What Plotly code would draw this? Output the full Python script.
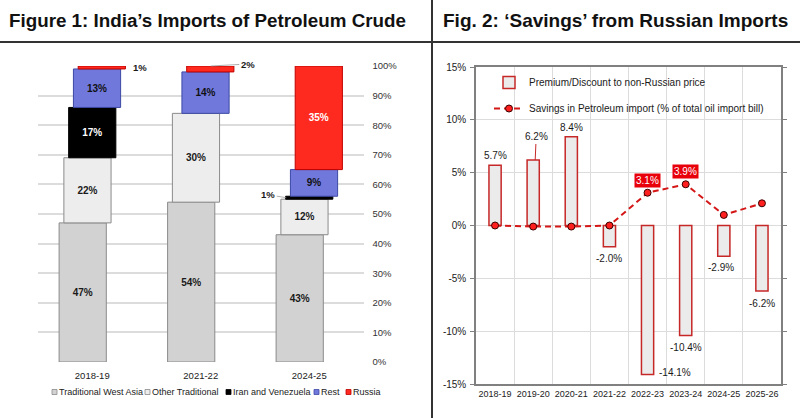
import plotly.graph_objects as go

# ---------------- Figure 1 data ----------------
years_left = ["2018-19", "2021-22", "2024-25"]
series_names = ["Traditional West Asia", "Other Traditional", "Iran and Venezuela", "Rest", "Russia"]
west_asia = [47, 54, 43]
other_traditional = [22, 30, 12]
iran_venezuela = [17, 0, 1]
rest = [13, 14, 9]
russia = [1, 2, 35]
left_tickvals = [0, 10, 20, 30, 40, 50, 60, 70, 80, 90, 100]
left_ticktext = ["0%", "10%", "20%", "30%", "40%", "50%", "60%", "70%", "80%", "90%", "100%"]

# ---------------- Figure 2 data ----------------
years_right = ["2018-19", "2019-20", "2020-21", "2021-22", "2022-23", "2023-24", "2024-25", "2025-26"]
premium_discount = [5.7, 6.2, 8.4, -2.0, -14.1, -10.4, -2.9, -6.2]
savings = [0.0, -0.1, -0.1, 0.0, 3.1, 3.9, 1.0, 2.1]
savings_label_years = ["2022-23", "2023-24"]
right_tickvals = [-15, -10, -5, 0, 5, 10, 15]
right_ticktext = ["-15%", "-10%", "-5%", "0%", "5%", "10%", "15%"]

title_left = "Figure 1: India’s Imports of Petroleum Crude"
title_right = "Fig. 2: ‘Savings’ from Russian Imports"
bar_name = "Premium/Discount to non-Russian price"
line_name = "Savings in Petroleum import (% of total oil import bill)"

# ---------------- styles ----------------
W, H = 800, 418
FONT = "Liberation Sans, Arial, sans-serif"


def px(x):
    return x / W


def py(y):
    return 1 - y / H


fills = ["#d2d2d2", "#ededed", "#000000", "#7078dc", "#ff2a1f"]
edges = ["#8a8a8a", "#8a8a8a", "#000000", "#3d4aa3", "#c00000"]
text_cols = ["#1a1a1a", "#1a1a1a", "#ffffff", "#111111", "#ffffff"]
bar_w = 0.435
step = 0.044

fig = go.Figure()

all_series = [west_asia, other_traditional, iran_venezuela, rest, russia]
bases = [0] * len(years_left)
for i, (name, vals) in enumerate(zip(series_names, all_series)):
    fig.add_trace(go.Bar(
        x=years_left, y=vals, base=list(bases),
        width=bar_w, offset=(i - 2) * step - bar_w / 2,
        marker=dict(color=fills[i],
                    line=dict(color=edges[i], width=[1 if v > 0 else 0 for v in vals])),
        text=[f"{v}%" if v >= 5 else "" for v in vals],
        textposition="inside", insidetextanchor="middle", textangle=0,
        insidetextfont=dict(family=FONT, size=10, color=text_cols[i], weight="bold"),
        name=name, showlegend=False, xaxis="x", yaxis="y", hoverinfo="skip",
    ))
    bases = [b + v for b, v in zip(bases, vals)]

# Figure 2 traces
fig.add_trace(go.Bar(
    x=years_right, y=premium_discount, width=0.32,
    marker=dict(color="#ebebeb", line=dict(color="#c62828", width=1.5)),
    name=bar_name, xaxis="x2", yaxis="y2", legend="legend2",
))
fig.add_trace(go.Scatter(
    x=years_right, y=savings, mode="lines+markers",
    line=dict(color="#d41616", width=2, dash="6px,4px"),
    marker=dict(size=7, color="#ff1f1f", line=dict(color="#3a0000", width=1)),
    name=line_name, xaxis="x2", yaxis="y2", legend="legend3",
))

annotations = []
# titles
annotations.append(dict(text=f"<b>{title_left}</b>", x=px(7), y=py(21), xref="paper", yref="paper",
                        xanchor="left", yanchor="middle", showarrow=False,
                        font=dict(family=FONT, size=18.8, color="#111")))
annotations.append(dict(text=f"<b>{title_right}</b>", x=px(441), y=py(21), xref="paper", yref="paper",
                        xanchor="left", yanchor="middle", showarrow=False,
                        font=dict(family=FONT, size=19, color="#111")))

# small labels of figure 1
lab_font = dict(family=FONT, size=9.5, color="#1a1a1a", weight="bold")
cum = [w + o + ir + r for w, o, ir, r in zip(west_asia, other_traditional, iran_venezuela, rest)]
annotations.append(dict(x=years_left[0], y=cum[0] + russia[0] / 2, xref="x", yref="y",
                        text=f"{russia[0]}%", showarrow=False, xanchor="left", xshift=39,
                        font=lab_font))
annotations.append(dict(x=years_left[1], y=cum[1] + russia[1], xref="x", yref="y",
                        text=f"{russia[1]}%", showarrow=True, arrowhead=0, arrowwidth=0.8,
                        arrowcolor="#9a9a9a", xshift=10, ax=37, ay=-2, font=lab_font))
base_iv = west_asia[2] + other_traditional[2]
annotations.append(dict(x=years_left[2], y=base_iv + iran_venezuela[2] / 2, xref="x", yref="y",
                        text=f"{iran_venezuela[2]}%", showarrow=True, arrowhead=0, arrowwidth=0.8,
                        arrowcolor="#9a9a9a", xshift=-23, ax=-18, ay=-3, font=lab_font))

# figure 2 bar labels
r_font = dict(family=FONT, size=10, color="#1a1a1a")
label_styles = [
    dict(yanchor="bottom", yshift=2),
    dict(showarrow=True, arrowhead=0, arrowwidth=1, arrowcolor="#c62828", ax=1, ay=-23, xshift=2),
    dict(yanchor="bottom", yshift=2),
    dict(yanchor="top", yshift=-4),
    dict(xanchor="left", xshift=9, yanchor="middle", yshift=2),
    dict(yanchor="top", yshift=-5),
    dict(yanchor="top", yshift=-4, xshift=-3),
    dict(yanchor="top", yshift=-5),
]
for yr, v, st in zip(years_right, premium_discount, label_styles):
    a = dict(x=yr, y=v, xref="x2", yref="y2", text=f"{v:.1f}%", showarrow=False, font=r_font)
    a.update(st)
    annotations.append(a)

for yr, v in zip(years_right, savings):
    if yr in savings_label_years:
        annotations.append(dict(x=yr, y=v, xref="x2", yref="y2", text=f"{v:.1f}%", showarrow=False,
                                yanchor="bottom", yshift=5, bgcolor="#e8000b", borderpad=1,
                                font=dict(family=FONT, size=10, color="#ffffff")))

# custom legend for figure 1
leg_icon_x = [52, 145, 226, 314, 346]
leg_text_x = [57, 150, 231, 319, 351]
shapes = []
for i, name in enumerate(series_names):
    shapes.append(dict(type="rect", xref="paper", yref="paper",
                       x0=px(leg_icon_x[i]), x1=px(leg_icon_x[i] + 5),
                       y0=py(394.5), y1=py(389.5),
                       fillcolor=fills[i], line=dict(color=edges[i], width=0.8)))
    annotations.append(dict(text=name, x=px(leg_text_x[i]), y=py(392), xref="paper", yref="paper",
                            xanchor="left", yanchor="middle", showarrow=False,
                            font=dict(family=FONT, size=9, color="#1a1a1a")))

# divider lines
shapes.append(dict(type="line", xref="paper", yref="paper", x0=0, x1=1, y0=py(42), y1=py(42),
                   line=dict(color="#333333", width=2)))
shapes.append(dict(type="line", xref="paper", yref="paper", x0=px(432), x1=px(432), y0=0, y1=1,
                   line=dict(color="#333333", width=2)))

leg_font = dict(family=FONT, size=10, color="#1a1a1a")
fig.update_layout(
    width=W, height=H,
    margin=dict(l=0, r=0, t=0, b=0, autoexpand=False),
    paper_bgcolor="white", plot_bgcolor="white",
    barmode="overlay",
    font=dict(family=FONT, color="#222"),
    xaxis=dict(domain=[px(38), px(363.5)], anchor="y", type="category",
               categoryorder="array", categoryarray=years_left, range=[-0.5, 2.5],
               showgrid=False, showline=False, zeroline=False, ticks="", tickangle=0,
               automargin=False, ticklabelstandoff=6, tickfont=dict(size=9.5, color="#222")),
    yaxis=dict(domain=[py(362), py(66)], anchor="x", range=[0, 100], side="right",
               tickvals=left_tickvals, ticktext=left_ticktext, automargin=False,
               showgrid=True, gridcolor="#dcdcdc", gridwidth=1.5, zeroline=False,
               showline=False, ticklabelstandoff=8, tickfont=dict(size=9.5, color="#333")),
    xaxis2=dict(domain=[px(476), px(781)], anchor="y2", type="category",
                categoryorder="array", categoryarray=years_right, range=[-0.5, 7.5],
                showgrid=True, tickson="boundaries", gridcolor="#dcdcdc", gridwidth=1,
                showline=True, mirror=True, linecolor="#808080", linewidth=1.5,
                ticks="", tickangle=0, automargin=False, zeroline=False,
                tickfont=dict(size=9, color="#222")),
    yaxis2=dict(domain=[py(384), py(67)], anchor="x2", range=[-15, 15],
                tickvals=right_tickvals, ticktext=right_ticktext, automargin=False,
                showgrid=True, gridcolor="#dcdcdc", gridwidth=1, zeroline=False,
                showline=True, mirror="ticks", linecolor="#808080", linewidth=1.5,
                ticks="outside", ticklen=4, tickcolor="#808080",
                ticklabelstandoff=2, tickfont=dict(size=10, color="#222")),
    legend2=dict(x=px(489), y=py(68), xanchor="left", yanchor="top",
                 bgcolor="rgba(0,0,0,0)", font=leg_font),
    legend3=dict(x=px(489), y=py(94), xanchor="left", yanchor="top",
                 bgcolor="rgba(0,0,0,0)", font=leg_font),
    annotations=annotations,
    shapes=shapes,
)

fig.write_html("out.html", config={"displayModeBar": False},
               post_script="document.body.style.margin='0';document.body.style.overflow='hidden';")
